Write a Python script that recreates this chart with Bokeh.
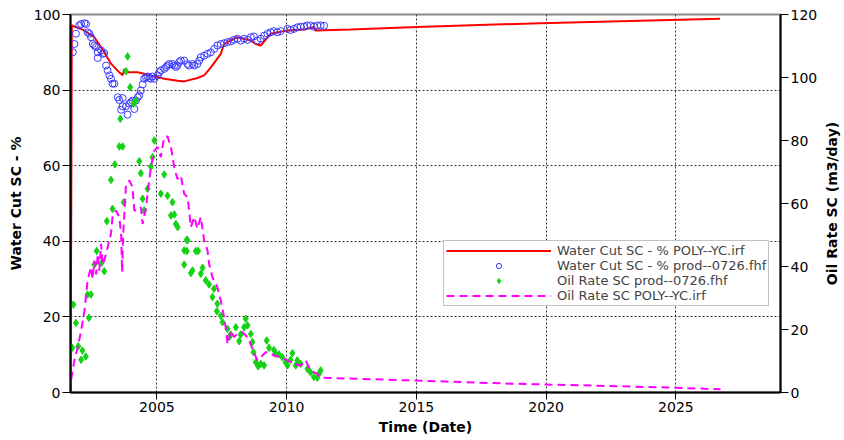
import math
from bokeh.plotting import figure
from bokeh.layouts import row
from bokeh.models import Range1d, LinearAxis, FixedTicker, Legend, LegendItem
from bokeh.embed import file_html
from bokeh.resources import INLINE

# ---------------- data (time in decimal years) ----------------
wc_sim_t = [2001.67, 2001.70, 2001.72, 2002.14, 2002.59, 2002.85, 2003.04, 2003.23, 2003.55,
            2003.68, 2003.74, 2003.81, 2004.26, 2004.77, 2005.28, 2005.80, 2006.05, 2006.56,
            2006.82, 2007.08, 2007.46, 2007.59, 2008.10, 2008.62, 2008.81, 2009.00, 2009.38,
            2010.03, 2010.67, 2011.05, 2011.10, 2012.46, 2015.03, 2019.77, 2026.70]
wc_sim = [0.0, 50.0, 97.1, 96.0, 94.0, 91.3, 89.2, 87.0, 84.7,
          83.9, 85.6, 84.7, 84.7, 83.9, 83.0, 82.5, 82.3, 83.2,
          83.9, 86.0, 89.6, 92.2, 94.0, 93.1, 92.2, 91.8, 94.9,
          95.8, 96.0, 96.7, 95.8, 96.0, 96.7, 97.7, 98.9]

wc_obs_t = [2001.76, 2001.82, 2001.88, 2002.01, 2002.08, 2002.21, 2002.27, 2002.33, 2002.40, 2002.46,
            2002.53, 2002.59, 2002.65, 2002.72, 2002.72, 2002.85, 2002.91, 2002.97, 2003.04, 2003.10,
            2003.17, 2003.23, 2003.29, 2003.36, 2003.49, 2003.55, 2003.68, 2003.62, 2003.68, 2003.81,
            2003.87, 2003.94, 2004.00, 2004.06, 2004.13, 2004.19, 2004.26, 2004.32, 2004.38, 2004.45,
            2004.51, 2004.58, 2004.64, 2004.71, 2004.77, 2004.83, 2004.90, 2005.03, 2005.09, 2005.15,
            2005.28, 2005.35, 2005.41, 2005.47, 2005.60, 2005.67, 2005.73, 2005.79, 2005.86, 2005.92,
            2006.05, 2006.18, 2006.24, 2006.37, 2006.44, 2006.56, 2006.63, 2006.69, 2006.82, 2006.95,
            2007.08, 2007.21, 2007.33, 2007.46, 2007.59, 2007.72, 2007.85, 2007.97, 2008.10, 2008.23,
            2008.36, 2008.49, 2008.62, 2008.74, 2008.87, 2009.00, 2009.13, 2009.26, 2009.38, 2009.51,
            2009.64, 2009.77, 2010.03, 2010.15, 2010.28, 2010.41, 2010.54, 2010.67, 2010.79, 2010.92,
            2011.05, 2011.18, 2011.31, 2011.44]
wc_obs = [90.0, 92.2, 94.9, 97.1, 97.5, 97.7, 97.5, 95.3, 94.9, 94.0,
          92.2, 91.8, 91.4, 90.0, 88.5, 90.5, 89.6, 89.8, 86.5, 85.2,
          83.9, 83.0, 81.7, 81.7, 78.1, 77.4, 77.9, 74.8, 75.7, 75.7,
          73.5, 76.4, 76.8, 77.2, 75.0, 77.2, 78.1, 78.6, 79.9, 81.5,
          83.0, 83.4, 83.6, 83.2, 83.0, 83.6, 83.0, 83.9, 84.7, 85.2,
          85.6, 86.1, 86.5, 86.9, 86.9, 86.5, 86.1, 86.5, 87.4, 87.8,
          87.8, 86.9, 86.5, 86.9, 86.5, 86.9, 87.8, 88.7, 89.1, 89.6,
          90.0, 90.9, 91.8, 92.2, 92.4, 92.7, 92.9, 93.3, 93.6, 93.1,
          93.6, 93.3, 94.0, 94.2, 93.1, 93.6, 94.4, 94.9, 95.3, 95.6,
          95.3, 95.6, 96.2, 95.9, 96.2, 96.6, 96.8, 96.8, 97.1, 97.1,
          96.8, 97.1, 97.1, 97.0]

oil_obs_t = [2001.74, 2001.78, 2001.88, 2001.97, 2002.08, 2002.13, 2002.26, 2002.33, 2002.38, 2002.46,
             2002.59, 2002.68, 2002.87, 2002.97, 2003.07, 2003.23, 2003.29, 2003.38, 2003.55, 2003.59,
             2003.68, 2003.72, 2003.81, 2003.87, 2003.97, 2004.10, 2004.19, 2004.32, 2004.38, 2004.45,
             2004.51, 2004.64, 2004.77, 2004.83, 2004.90, 2005.15, 2005.28, 2005.41, 2005.54, 2005.60,
             2005.67, 2005.73, 2005.80, 2006.05, 2006.05, 2006.15, 2006.15, 2006.18, 2006.31, 2006.37,
             2006.50, 2006.59, 2006.69, 2006.76, 2006.88, 2007.01, 2007.14, 2007.20, 2007.31, 2007.33,
             2007.46, 2007.53, 2007.72, 2007.78, 2007.85, 2008.04, 2008.17, 2008.23, 2008.36, 2008.42,
             2008.49, 2008.62, 2008.68, 2008.72, 2008.81, 2008.90, 2009.00, 2009.13, 2009.23, 2009.32,
             2009.51, 2009.58, 2009.70, 2009.83, 2009.96, 2010.03, 2010.15, 2010.22, 2010.35, 2010.41,
             2010.54, 2010.80, 2010.92, 2011.05, 2011.18, 2011.24, 2011.31]
oil_obs = [14.2, 27.9, 22.1, 14.7, 10.4, 13.3, 11.4, 31.1, 23.7, 31.1,
           40.6, 44.9, 41.2, 38.5, 54.4, 67.5, 58.3, 72.4, 78.1, 86.9,
           78.1, 60.4, 102.0, 106.7, 96.9, 91.7, 92.7, 73.4, 69.6, 61.5,
           57.8, 64.7, 71.7, 74.7, 80.0, 63.1, 69.2, 62.5, 56.2, 60.4,
           56.5, 53.5, 52.5, 45.1, 40.6, 48.5, 44.9, 48.3, 37.9, 38.7,
           44.9, 44.9, 37.7, 39.6, 35.6, 34.3, 30.3, 32.9, 25.8, 28.2,
           24.4, 22.3, 20.2, 17.6, 18.4, 20.7, 16.3, 18.4, 20.7, 23.4,
           21.3, 18.6, 16.0, 12.8, 9.6, 8.3, 9.1, 8.6, 16.5, 14.2,
           13.5, 12.3, 12.1, 11.2, 9.6, 8.6, 10.4, 12.5, 8.6, 10.2,
           9.1, 7.5, 6.4, 4.9, 4.7, 5.9, 7.0]

oil_sim_t = [2001.67, 2001.69, 2001.82, 2001.95, 2002.08, 2002.21, 2002.33, 2002.46, 2002.52, 2002.59,
             2002.66, 2002.72, 2002.78, 2002.85, 2002.91, 2002.97, 2003.10, 2003.23, 2003.29, 2003.42,
             2003.55, 2003.62, 2003.66, 2003.70, 2003.81, 2003.94, 2004.06, 2004.13, 2004.26, 2004.38,
             2004.45, 2004.58, 2004.67, 2004.77, 2004.90, 2005.03, 2005.15, 2005.28, 2005.41, 2005.54,
             2005.67, 2005.79, 2005.92, 2006.05, 2006.18, 2006.24, 2006.31, 2006.44, 2006.56, 2006.69,
             2006.82, 2006.95, 2007.01, 2007.14, 2007.33, 2007.46, 2007.59, 2007.65, 2007.72, 2007.85,
             2007.97, 2008.10, 2008.29, 2008.49, 2008.68, 2008.87, 2009.00, 2009.19, 2009.32, 2009.51,
             2009.77, 2010.03, 2010.28, 2010.54, 2010.73, 2010.92, 2011.18, 2011.32, 2014.94, 2018.66,
             2021.76, 2025.06, 2026.72]
oil_sim = [0.0, 3.8, 10.2, 14.4, 19.7, 26.0, 35.6, 39.8, 36.0, 41.9,
           37.5, 44.0, 38.7, 47.2, 40.5, 41.9, 46.1, 50.4, 55.7, 57.8,
           55.7, 50.5, 38.2, 50.0, 66.2, 67.3, 65.2, 57.8, 57.8, 58.8,
           53.5, 58.8, 65.2, 71.5, 76.8, 77.9, 74.7, 81.1, 81.3, 77.9,
           71.5, 67.8, 68.9, 63.1, 62.0, 57.8, 52.5, 55.7, 52.0, 55.7,
           48.3, 45.1, 40.8, 36.6, 33.4, 29.2, 23.9, 20.7, 15.4, 19.7,
           17.6, 18.6, 19.2, 17.6, 13.9, 10.2, 11.2, 12.8, 12.8, 11.7,
           11.2, 10.2, 9.1, 8.6, 10.2, 7.0, 5.9, 4.7, 3.8, 2.8,
           2.2, 1.5, 1.0]

x_ticks = [2005, 2010, 2015, 2020, 2025]
wc_ticks = [0, 20, 40, 60, 80, 100]
oil_ticks = [0, 20, 40, 60, 80, 100, 120]

FONT = "DejaVu Sans"

p = figure(width=820, height=440, output_backend="svg", toolbar_location=None,
           x_range=Range1d(2001.67, 2029.03), y_range=Range1d(0, 100),
           min_border_left=70, min_border_right=38, min_border_top=14, min_border_bottom=48,
           background_fill_color="white", border_fill_color="white")
p.extra_y_ranges = {"oil": Range1d(0, 120)}
p.outline_line_color = "#8a8a8a"
p.outline_line_width = 2

# axes
p.xaxis.ticker = FixedTicker(ticks=x_ticks)
p.xaxis.axis_label = "Time (Date)"
p.yaxis.ticker = FixedTicker(ticks=wc_ticks)
p.yaxis.axis_label = "Water Cut SC - %"
right = LinearAxis(y_range_name="oil", ticker=FixedTicker(ticks=oil_ticks))
p.add_layout(right, "right")

for ax in [p.xaxis[0], p.yaxis[0], right]:
    ax.axis_line_color = "black"
    ax.axis_line_width = 2
    ax.major_tick_line_color = "black"
    ax.major_tick_line_width = 1
    ax.major_tick_out = 8
    ax.major_tick_in = 0
    ax.minor_tick_line_color = None
    ax.major_label_text_font = FONT
    ax.major_label_text_font_size = "14px"
    ax.major_label_text_color = "black"
    ax.major_label_standoff = 2
    ax.axis_label_text_font = FONT
    ax.axis_label_text_font_size = "14px"
    ax.axis_label_text_font_style = "bold"
    ax.axis_label_text_color = "black"
p.xaxis[0].major_tick_out = 7
p.yaxis[0].axis_label_standoff = 7
p.xaxis[0].axis_label_standoff = 4

p.xgrid.grid_line_color = "#333333"
p.xgrid.grid_line_dash = "2 2"
p.ygrid.grid_line_color = "#333333"
p.ygrid.grid_line_dash = "2 2"

# glyphs
r_red = p.line(wc_sim_t, wc_sim, line_color="#ff0000", line_width=2)
r_blue = p.scatter(wc_obs_t, wc_obs, marker="circle", size=7, fill_alpha=0,
                   line_color="#3a3aff", line_width=1)
r_green = p.scatter(oil_obs_t, oil_obs, marker="diamond", size=7.5, fill_color="#14d214",
                    line_color="#14d214", line_width=1, y_range_name="oil")
r_mag = p.line(oil_sim_t, oil_sim, line_color="#ff00ff", line_width=2, line_dash="8 5",
               y_range_name="oil")

legend = Legend(items=[
    LegendItem(label="Water Cut SC - % POLY--YC.irf", renderers=[r_red]),
    LegendItem(label="Water Cut SC - % prod--0726.fhf", renderers=[r_blue]),
    LegendItem(label="Oil Rate SC prod--0726.fhf", renderers=[r_green]),
    LegendItem(label="Oil Rate SC POLY--YC.irf", renderers=[r_mag]),
], location=(373, 86))
legend.label_text_font = FONT
legend.label_text_font_size = "13px"
legend.label_height = 13
legend.glyph_height = 13
legend.glyph_width = 105
legend.label_standoff = 6
legend.spacing = 0
legend.padding = 2
legend.margin = 0
legend.border_line_color = "#888888"
legend.border_line_width = 1
legend.background_fill_color = "white"
legend.background_fill_alpha = 1
p.add_layout(legend, "center")

# narrow companion figure that carries the right-hand title (reads bottom to top)
side = figure(width=24, height=440, output_backend="svg", toolbar_location=None,
              x_range=Range1d(0, 1), y_range=Range1d(0, 1),
              min_border_left=0, min_border_right=0, min_border_top=14, min_border_bottom=48,
              background_fill_color="white", border_fill_color="white")
side.outline_line_color = None
side.grid.visible = False
side.xaxis.visible = False
side.yaxis.ticker = FixedTicker(ticks=[])
side.yaxis.axis_line_color = None
side.yaxis.major_tick_line_color = None
side.yaxis.minor_tick_line_color = None
side.yaxis.major_tick_out = 0
side.yaxis.minor_tick_out = 0
side.yaxis.major_label_standoff = 0
side.yaxis.axis_label = "Oil Rate SC (m3/day)"
side.yaxis.axis_label_standoff = 0
side.yaxis.axis_label_text_font = FONT
side.yaxis.axis_label_text_font_size = "14px"
side.yaxis.axis_label_text_font_style = "bold"
side.yaxis.axis_label_text_color = "black"

layout = row(p, side, spacing=0)
open("out.html", "w").write(file_html(layout, INLINE))
